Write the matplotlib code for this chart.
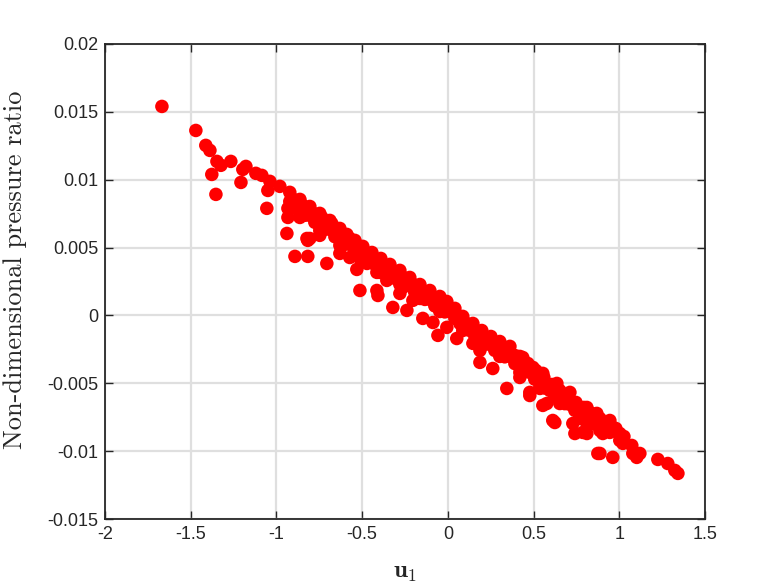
import matplotlib
matplotlib.use("Agg")
import matplotlib.pyplot as plt
import numpy as np

# values (u_1 vs non-dimensional pressure ratio)
U1 = [
    # upper edge of the band
    -1.470, -1.412, -1.388, -1.347, -1.266, -1.196, -1.178, -1.120, -1.085, -1.038,
    -0.980, -0.922, -0.863, -0.805, -0.747, -0.688, -0.630, -0.589, -0.542, -0.496,
    -0.443, -0.391, -0.338, -0.280, -0.222, -0.163, -0.105, -0.047, -0.006, 0.041,
    0.087, 0.146, 0.198, 0.251, 0.303, 0.362, 0.420, 0.467, 0.513, 0.560,
    0.607, 0.653, 0.700, 0.747, 0.793, 0.840, 0.887, 0.933, 0.980, 1.027, 1.073,
    # just below the edge
    -0.893, -0.834, -0.776, -0.718, -0.659, -0.610, -0.566, -0.519, -0.470, -0.417,
    -0.365, -0.309, -0.251, -0.193, -0.134, -0.076, -0.027, 0.018, 0.064, 0.117,
    0.172, 0.225, 0.277, 0.333, 0.391, 0.444, 0.490, 0.537, 0.584, 0.630,
    0.677, 0.724, 0.770, 0.817, 0.864, 0.910,
    # second row
    -0.922, -0.863, -0.805, -0.747, -0.688, -0.630, -0.572, -0.513, -0.455, -0.397,
    -0.338, -0.280, -0.222, -0.163, -0.105, -0.047, 0.012, 0.070, 0.128, 0.187,
    0.245, 0.303, 0.362, 0.420, 0.478, 0.537, 0.595, 0.653, 0.712, 0.770,
    0.828, 0.887, 0.945, 1.003,
    # between second and third rows
    -0.893, -0.834, -0.776, -0.718, -0.659, -0.601, -0.543, -0.484, -0.426, -0.368,
    -0.309, -0.251, -0.193, -0.134, -0.076, -0.018, 0.041, 0.099, 0.157, 0.216,
    0.274, 0.332, 0.391, 0.449, 0.507, 0.566, 0.624, 0.682, 0.741, 0.799, 0.857,
    # third row
    -0.747, -0.630, -0.513, -0.397, -0.280, -0.163, -0.047, 0.070, 0.187, 0.303,
    0.420, 0.537, 0.653, 0.770, 0.887,
    # scattered points
    -1.668, -1.377, -1.353, -1.324, -1.207, -1.050, -1.056, -0.939, -0.892, -0.817,
    -0.706, -0.904, -0.846, -0.933, -0.933, -0.822, -0.863, -0.787, -0.735, -0.677,
    -0.805, -0.747, -0.647, -0.572, -0.531, -0.630, -0.572, -0.472, -0.513, -0.414,
    -0.356, -0.817, -0.408, -0.321, -0.239, -0.146, -0.087, -0.058, 0.052, 0.146,
    0.187, 0.187, 0.262, -0.414, -0.262, -0.280, -0.204, -0.006, 0.087, 0.344,
    0.478, 0.577, 0.624, 0.741, 0.787, 0.887, 0.962, 1.102, 0.420, 0.537,
    0.694, 0.869, 0.962, 1.021, 0.612, 0.729, 0.945, 0.437, 0.496, 0.554,
    0.636, 0.712, 0.811, 0.828, 1.003, 1.021, 0.875, 1.079, 1.120, 1.225,
    1.283, 1.324, 1.342, 0.811, 0.811, 0.904, 0.554, 0.478,
]
PRESSURE = [
    0.01363, 0.01253, 0.01216, 0.01135, 0.01135, 0.01076, 0.01098, 0.01047, 0.01032, 0.00988,
    0.00951, 0.00907, 0.00855, 0.00803, 0.00752, 0.00700, 0.00641, 0.00597, 0.00553, 0.00509,
    0.00464, 0.00420, 0.00376, 0.00332, 0.00280, 0.00228, 0.00184, 0.00140, 0.00103, 0.00052,
    -0.00007, -0.00059, -0.00111, -0.00155, -0.00192, -0.00228, -0.00302, -0.00354, -0.00405, -0.00457,
    -0.00509, -0.00553, -0.00597, -0.00641, -0.00678, -0.00722, -0.00759, -0.00796, -0.00833, -0.00892, -0.00958,
    0.00851, 0.00799, 0.00748, 0.00696, 0.00641, 0.00589, 0.00545, 0.00501, 0.00457, 0.00412,
    0.00368, 0.00324, 0.00276, 0.00224, 0.00176, 0.00132, 0.00092, 0.00048, -0.00008, -0.00063,
    -0.00115, -0.00163, -0.00204, -0.00240, -0.00295, -0.00358, -0.00410, -0.00461, -0.00513, -0.00561,
    -0.00605, -0.00649, -0.00690, -0.00730, -0.00770, -0.00808,
    0.00840, 0.00789, 0.00737, 0.00685, 0.00634, 0.00575, 0.00523, 0.00479, 0.00427, 0.00376,
    0.00324, 0.00273, 0.00221, 0.00170, 0.00118, 0.00074, 0.00029, -0.00022, -0.00111, -0.00170,
    -0.00214, -0.00258, -0.00302, -0.00361, -0.00420, -0.00486, -0.00553, -0.00604, -0.00656, -0.00708,
    -0.00766, -0.00811, -0.00862, -0.00921,
    0.00790, 0.00738, 0.00686, 0.00634, 0.00580, 0.00524, 0.00476, 0.00428, 0.00376, 0.00325,
    0.00273, 0.00222, 0.00170, 0.00118, 0.00070, 0.00026, -0.00022, -0.00080, -0.00150, -0.00212,
    -0.00258, -0.00305, -0.00355, -0.00412, -0.00470, -0.00535, -0.00596, -0.00650, -0.00700, -0.00752, -0.00800,
    0.00626, 0.00516, 0.00420, 0.00317, 0.00228, 0.00125, 0.00029, -0.00059, -0.00221, -0.00302,
    -0.00420, -0.00538, -0.00649, -0.00759, -0.00848,
    0.01540, 0.01039, 0.00892, 0.01106, 0.00980, 0.00921, 0.00789, 0.00604, 0.00435, 0.00435,
    0.00383, 0.00840, 0.00811, 0.00789, 0.00722, 0.00567, 0.00722, 0.00737, 0.00722, 0.00678,
    0.00567, 0.00590, 0.00604, 0.00567, 0.00339, 0.00457, 0.00427, 0.00383, 0.00184, 0.00184,
    0.00258, 0.00553, 0.00147, 0.00059, 0.00037, -0.00022, -0.00052, -0.00147, -0.00170, -0.00206,
    -0.00258, -0.00346, -0.00391, 0.00317, 0.00206, 0.00162, 0.00111, -0.00088, -0.00111, -0.00538,
    -0.00590, -0.00649, -0.00789, -0.00870, -0.00862, -0.01017, -0.01046, -0.01046, -0.00457, -0.00531,
    -0.00626, -0.00722, -0.00825, -0.00899, -0.00774, -0.00796, -0.00774, -0.00310, -0.00383, -0.00427,
    -0.00501, -0.00567, -0.00678, -0.00722, -0.00870, -0.00943, -0.01017, -0.01017, -0.01017, -0.01061,
    -0.01091, -0.01142, -0.01164, -0.00796, -0.00870, -0.00870, -0.00663, -0.00567,
]

X_TICKS = [-2, -1.5, -1, -0.5, 0, 0.5, 1, 1.5]
X_TICK_LABELS = ["-2", "-1.5", "-1", "-0.5", "0", "0.5", "1", "1.5"]
Y_TICKS = [-0.015, -0.01, -0.005, 0, 0.005, 0.01, 0.015, 0.02]
Y_TICK_LABELS = ["-0.015", "-0.01", "-0.005", "0", "0.005", "0.01", "0.015", "0.02"]

plt.rcParams["mathtext.fontset"] = "cm"

fig = plt.figure(figsize=(7.78, 5.84), dpi=100)
ax = fig.add_axes([105 / 778, 65 / 584, 600 / 778, 475 / 584])

ax.scatter(U1, PRESSURE, s=95, color="#ff0000", edgecolors="none", zorder=3)

ax.set_xlim(-2, 1.5)
ax.set_ylim(-0.015, 0.02)
ax.set_xticks(X_TICKS)
ax.set_xticklabels(X_TICK_LABELS, fontfamily="Liberation Sans", fontsize=13)
ax.set_yticks(Y_TICKS)
ax.set_yticklabels(Y_TICK_LABELS, fontfamily="Liberation Sans", fontsize=13)

ax.grid(True, color="#dfdfdf", linewidth=1.6, zorder=0)
ax.set_axisbelow(True)
ax.tick_params(direction="in", length=6, width=1.0, colors="#262626",
               top=True, right=True, labelcolor="#262626", pad=5)
for sp in ax.spines.values():
    sp.set_color("#262626")
    sp.set_linewidth(1.3)

ax.set_xlabel(r"$\mathbf{u}_1$", fontsize=18, color="#262626", labelpad=12)
ax.set_ylabel("Non-dimensional pressure ratio", fontfamily="cmr10",
              fontsize=19, color="#262626")
ax.yaxis.set_label_coords(-0.13, 0.525)

fig.savefig("out.png", dpi=100)
